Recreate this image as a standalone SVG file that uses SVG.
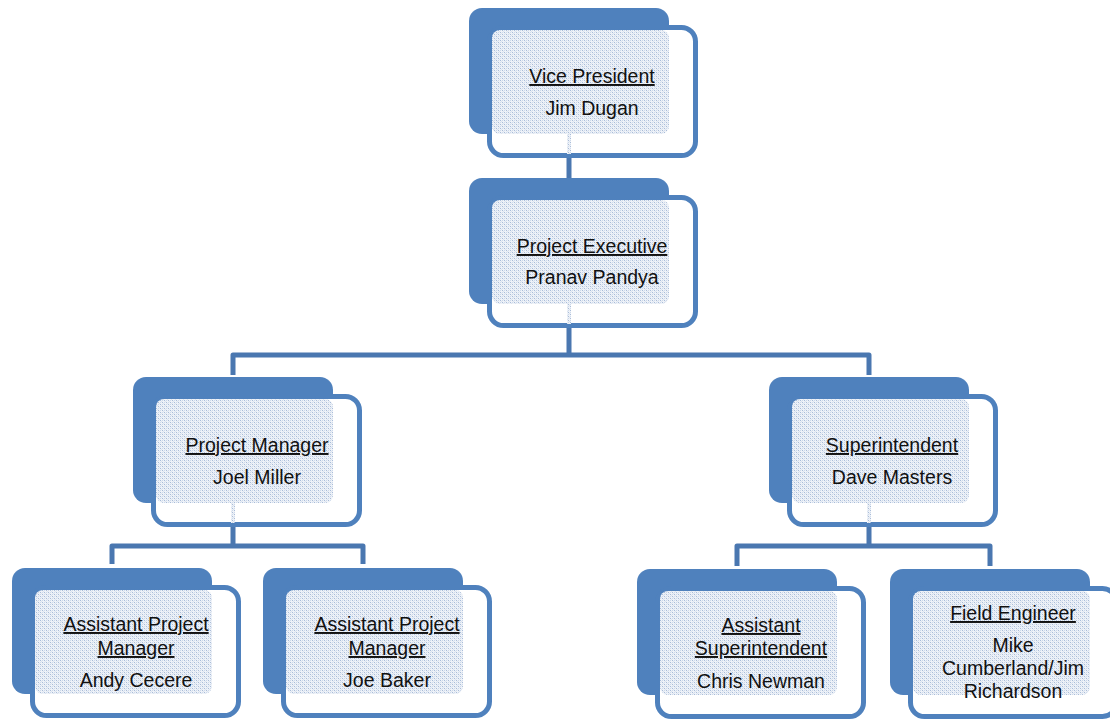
<svg xmlns="http://www.w3.org/2000/svg" width="1110" height="719" viewBox="0 0 1110 719">
<defs>
<pattern id="dots" width="4" height="4" patternUnits="userSpaceOnUse">
<rect width="4" height="4" fill="#eef2f8"/>
<rect x="0" y="0" width="1" height="1" fill="#a9bcd8"/>
<rect x="2" y="2" width="1" height="1" fill="#a9bcd8"/>
<rect x="2" y="0" width="1" height="1" fill="#cdd9ea"/>
<rect x="0" y="2" width="1" height="1" fill="#cdd9ea"/>
<rect x="1" y="1" width="1" height="1" fill="#dbe3ef"/>
<rect x="3" y="3" width="1" height="1" fill="#dbe3ef"/>
</pattern>
</defs>
<style>
.back{fill:#4f81bd}
.front{fill:#ffffff;stroke:#4f81bd;stroke-width:5}
.pat{fill:url(#dots)}
.conn{fill:none;stroke:#4a77b0;stroke-width:5;stroke-linejoin:round;stroke-linecap:butt}
text{font-family:"Liberation Sans",Arial,sans-serif;font-size:19.5px;fill:#111;text-anchor:middle}
.t{text-decoration:underline}
</style>
<g id="connectors">
<path class="conn" d="M569 158 V178"/>
<path class="conn" d="M569 328 V355 M233 375 V355 H869 V375"/>
<path class="conn" d="M233 527 V546 M112 564 V546 H363 V564"/>
<path class="conn" d="M869 527 V546 M737 566 V546 H990 V566"/>
</g>
<g id="vp">
<rect class="back" x="469" y="8" width="200" height="126" rx="13"/>
<rect class="front" x="489.5" y="27.5" width="206" height="128" rx="14"/>
<rect class="pat" x="492" y="30" width="177" height="104" rx="8"/>
<rect class="pat" x="567" y="134" width="4" height="20"/>
<text class="t" x="592" y="83">Vice President</text>
<text x="592" y="115">Jim Dugan</text>
</g>
<g id="pe">
<rect class="back" x="469" y="178" width="200" height="126" rx="13"/>
<rect class="front" x="489.5" y="197.5" width="206" height="128" rx="14"/>
<rect class="pat" x="492" y="200" width="177" height="104" rx="8"/>
<rect class="pat" x="567" y="304" width="4" height="20"/>
<text class="t" x="592" y="253">Project Executive</text>
<text x="592" y="284">Pranav Pandya</text>
</g>
<g id="pm">
<rect class="back" x="133" y="377" width="200" height="126" rx="13"/>
<rect class="front" x="153.5" y="396.5" width="206" height="128" rx="14"/>
<rect class="pat" x="156" y="399" width="177" height="104" rx="8"/>
<rect class="pat" x="231" y="503" width="4" height="20"/>
<text class="t" x="257" y="452">Project Manager</text>
<text x="257" y="484">Joel Miller</text>
</g>
<g id="super">
<rect class="back" x="769" y="377" width="200" height="126" rx="13"/>
<rect class="front" x="789.5" y="396.5" width="206" height="128" rx="14"/>
<rect class="pat" x="792" y="399" width="177" height="104" rx="8"/>
<rect class="pat" x="867" y="503" width="4" height="20"/>
<text class="t" x="892" y="452">Superintendent</text>
<text x="892" y="484">Dave Masters</text>
</g>
<g id="apm1">
<rect class="back" x="12" y="568" width="200" height="126" rx="13"/>
<rect class="front" x="32.5" y="587.5" width="206" height="128" rx="14"/>
<rect class="pat" x="35" y="590" width="177" height="104" rx="8"/>
<text class="t" x="136" y="631">Assistant Project</text>
<text class="t" x="136" y="655">Manager</text>
<text x="136" y="687">Andy Cecere</text>
</g>
<g id="apm2">
<rect class="back" x="263" y="568" width="200" height="126" rx="13"/>
<rect class="front" x="283.5" y="587.5" width="206" height="128" rx="14"/>
<rect class="pat" x="286" y="590" width="177" height="104" rx="8"/>
<text class="t" x="387" y="631">Assistant Project</text>
<text class="t" x="387" y="655">Manager</text>
<text x="387" y="687">Joe Baker</text>
</g>
<g id="asup">
<rect class="back" x="637" y="569" width="200" height="126" rx="13"/>
<rect class="front" x="657.5" y="588.5" width="206" height="128" rx="14"/>
<rect class="pat" x="660" y="591" width="177" height="104" rx="8"/>
<text class="t" x="761" y="632">Assistant</text>
<text class="t" x="761" y="655">Superintendent</text>
<text x="761" y="688">Chris Newman</text>
</g>
<g id="fe">
<rect class="back" x="890" y="569" width="200" height="126" rx="13"/>
<rect class="front" x="910.5" y="588.5" width="206" height="128" rx="14"/>
<rect class="pat" x="913" y="591" width="177" height="104" rx="8"/>
<text class="t" x="1013" y="620">Field Engineer</text>
<text x="1013" y="652">Mike</text>
<text x="1013" y="675">Cumberland/Jim</text>
<text x="1013" y="698">Richardson</text>
</g>
</svg>
